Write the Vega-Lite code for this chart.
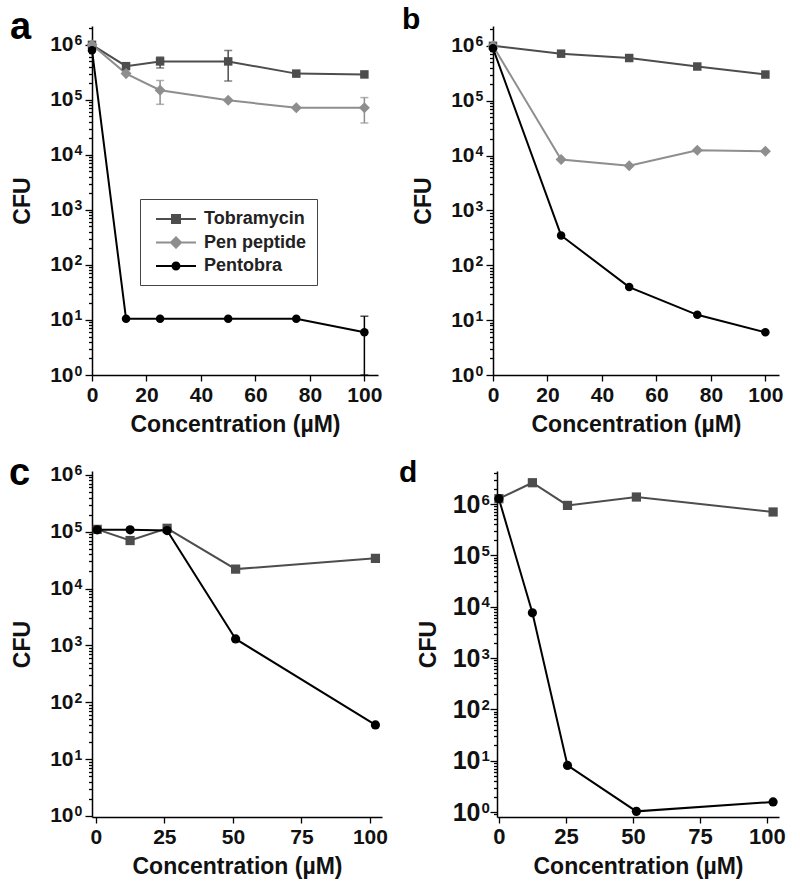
{
  "$schema": "https://vega.github.io/schema/vega-lite/v6.json",
  "padding": {"left": 8, "top": 4, "right": 5, "bottom": 5},
  "background": "white",
  "config": {
    "view": {"stroke": null},
    "axis": {"domainColor": "#000", "domainWidth": 1.5, "tickColor": "#000", "tickWidth": 1.3, "labelFont": "Liberation Sans", "labelFontWeight": "bold", "labelFontSize": 21, "labelColor": "#111", "titleFont": "Liberation Sans", "titleFontWeight": "bold", "titleFontSize": 23, "titleColor": "#111", "grid": false, "labelOverlap": false, "labelFlush": false},
    "text": {"font": "Liberation Sans", "fontWeight": "bold", "align": "left", "baseline": "alphabetic", "color": "#000"}
  },
  "datasets": {
    "labels": [
      {"panel": "a", "label": "a"},
      {"panel": "b", "label": "b"},
      {"panel": "c", "label": "c"},
      {"panel": "d", "label": "d"}
    ],
    "pts": [
      {"panel": "a", "series": "Tobramycin", "conc": 0, "cfu": 1000000},
      {"panel": "a", "series": "Tobramycin", "conc": 12.5, "cfu": 410000},
      {"panel": "a", "series": "Tobramycin", "conc": 25, "cfu": 500000},
      {"panel": "a", "series": "Tobramycin", "conc": 50, "cfu": 500000},
      {"panel": "a", "series": "Tobramycin", "conc": 75, "cfu": 300000},
      {"panel": "a", "series": "Tobramycin", "conc": 100, "cfu": 290000},
      {"panel": "a", "series": "Pen peptide", "conc": 0, "cfu": 1000000},
      {"panel": "a", "series": "Pen peptide", "conc": 12.5, "cfu": 300000},
      {"panel": "a", "series": "Pen peptide", "conc": 25, "cfu": 150000},
      {"panel": "a", "series": "Pen peptide", "conc": 50, "cfu": 98000},
      {"panel": "a", "series": "Pen peptide", "conc": 75, "cfu": 72000},
      {"panel": "a", "series": "Pen peptide", "conc": 100, "cfu": 72000},
      {"panel": "a", "series": "Pentobra", "conc": 0, "cfu": 800000},
      {"panel": "a", "series": "Pentobra", "conc": 12.5, "cfu": 10.5},
      {"panel": "a", "series": "Pentobra", "conc": 25, "cfu": 10.5},
      {"panel": "a", "series": "Pentobra", "conc": 50, "cfu": 10.5},
      {"panel": "a", "series": "Pentobra", "conc": 75, "cfu": 10.5},
      {"panel": "a", "series": "Pentobra", "conc": 100, "cfu": 6},
      {"panel": "b", "series": "Tobramycin", "conc": 0, "cfu": 1000000},
      {"panel": "b", "series": "Tobramycin", "conc": 25, "cfu": 720000},
      {"panel": "b", "series": "Tobramycin", "conc": 50, "cfu": 600000},
      {"panel": "b", "series": "Tobramycin", "conc": 75, "cfu": 420000},
      {"panel": "b", "series": "Tobramycin", "conc": 100, "cfu": 300000},
      {"panel": "b", "series": "Pen peptide", "conc": 0, "cfu": 1000000},
      {"panel": "b", "series": "Pen peptide", "conc": 25, "cfu": 8500},
      {"panel": "b", "series": "Pen peptide", "conc": 50, "cfu": 6500},
      {"panel": "b", "series": "Pen peptide", "conc": 75, "cfu": 12500},
      {"panel": "b", "series": "Pen peptide", "conc": 100, "cfu": 12000},
      {"panel": "b", "series": "Pentobra", "conc": 0, "cfu": 900000},
      {"panel": "b", "series": "Pentobra", "conc": 25, "cfu": 350},
      {"panel": "b", "series": "Pentobra", "conc": 50, "cfu": 40},
      {"panel": "b", "series": "Pentobra", "conc": 75, "cfu": 12.5},
      {"panel": "b", "series": "Pentobra", "conc": 100, "cfu": 6},
      {"panel": "c", "series": "Tobramycin", "conc": 0.5, "cfu": 110000},
      {"panel": "c", "series": "Tobramycin", "conc": 12.5, "cfu": 70000},
      {"panel": "c", "series": "Tobramycin", "conc": 26, "cfu": 115000},
      {"panel": "c", "series": "Tobramycin", "conc": 51, "cfu": 22000},
      {"panel": "c", "series": "Tobramycin", "conc": 102, "cfu": 34000},
      {"panel": "c", "series": "Pentobra", "conc": 0.5, "cfu": 108000},
      {"panel": "c", "series": "Pentobra", "conc": 12.5, "cfu": 108000},
      {"panel": "c", "series": "Pentobra", "conc": 26, "cfu": 105000},
      {"panel": "c", "series": "Pentobra", "conc": 51, "cfu": 1300},
      {"panel": "c", "series": "Pentobra", "conc": 102, "cfu": 40},
      {"panel": "d", "series": "Tobramycin", "conc": 0, "cfu": 1270000},
      {"panel": "d", "series": "Tobramycin", "conc": 12.5, "cfu": 2600000},
      {"panel": "d", "series": "Tobramycin", "conc": 25.6, "cfu": 940000},
      {"panel": "d", "series": "Tobramycin", "conc": 51.3, "cfu": 1370000},
      {"panel": "d", "series": "Tobramycin", "conc": 102.3, "cfu": 700000},
      {"panel": "d", "series": "Pentobra", "conc": 0, "cfu": 1270000},
      {"panel": "d", "series": "Pentobra", "conc": 12.5, "cfu": 7600},
      {"panel": "d", "series": "Pentobra", "conc": 25.6, "cfu": 8.1},
      {"panel": "d", "series": "Pentobra", "conc": 51.3, "cfu": 1.03},
      {"panel": "d", "series": "Pentobra", "conc": 102.3, "cfu": 1.57}
    ],
    "errs": [
      {"series": "Tobramycin", "conc": 25, "lo": 380000, "hi": 600000},
      {"series": "Tobramycin", "conc": 50, "lo": 220000, "hi": 790000},
      {"series": "Pen peptide", "conc": 25, "lo": 83000, "hi": 225000},
      {"series": "Pen peptide", "conc": 100, "lo": 38000, "hi": 110000},
      {"series": "Pentobra", "conc": 100, "lo": 1, "hi": 11.7}
    ]
  },
  "resolve": {"scale": {"x": "independent", "y": "independent", "color": "independent", "shape": "independent"}, "axis": {"x": "independent", "y": "independent"}, "legend": {"color": "independent", "shape": "independent"}},
  "spacing": 18,
  "vconcat": [
    {
      "spacing": 20,
      "resolve": {"scale": {"x": "independent", "y": "independent", "color": "independent", "shape": "independent"}, "axis": {"x": "independent", "y": "independent"}, "legend": {"color": "independent", "shape": "independent"}},
      "hconcat": [
        {
          "width": 286, "height": 349,
          "resolve": {"scale": {"shape": "independent", "color": "independent"}, "legend": {"shape": "independent", "color": "independent"}, "axis": {"y": "independent"}},
          "layer": [
            {
              "data": {"name": "pts"},
              "transform": [{"filter": "datum.panel === 'a'"}],
              "mark": {"type": "line", "strokeWidth": 2},
              "encoding": {
                "x": {"field": "conc", "type": "quantitative", "title": "Concentration (µM)", "scale": {"domain": [0, 105], "nice": false},
                  "axis": {"values": [0, 10, 20, 30, 40, 50, 60, 70, 80, 90, 100], "labelExpr": "datum.value % 20 === 0 ? datum.label : ''", "tickSize": {"condition": {"test": "datum.value % 20 === 0", "value": 6}, "value": 4}, "labelPadding": 3, "titlePadding": 8}},
                "y": {"field": "cfu", "type": "quantitative", "title": "CFU", "scale": {"type": "log", "domain": [1, 2200000], "nice": false},
                  "axis": {"values": [1,2,3,4,5,6,7,8,9,10,20,30,40,50,60,70,80,90,100,200,300,400,500,600,700,800,900,1000,2000,3000,4000,5000,6000,7000,8000,9000,10000,20000,30000,40000,50000,60000,70000,80000,90000,100000,200000,300000,400000,500000,600000,700000,800000,900000,1000000,2000000],
                    "labelExpr": "abs(log(datum.value)/LN10 - round(log(datum.value)/LN10)) < 0.01 ? '10' : ''",
                    "tickSize": {"condition": {"test": "abs(log(datum.value)/LN10 - round(log(datum.value)/LN10)) < 0.01", "value": 7}, "value": 3.5},
                    "labelPadding": 12, "titlePadding": 15}},
                "color": {"field": "series", "type": "nominal", "legend": null, "scale": {"domain": ["Tobramycin", "Pen peptide", "Pentobra"], "range": ["#4d4d4d", "#8e8e8e", "#000000"]}}
              }
            },
            {
              "data": {"name": "errs"},
              "mark": {"type": "rule", "strokeWidth": 1.5},
              "encoding": {
                "x": {"field": "conc", "type": "quantitative"},
                "y": {"field": "lo", "type": "quantitative", "axis": null},
                "y2": {"field": "hi"},
                "color": {"field": "series", "type": "nominal", "legend": null, "scale": {"domain": ["Tobramycin", "Pen peptide", "Pentobra"], "range": ["#4d4d4d", "#8e8e8e", "#000000"]}}
              }
            },
            {
              "data": {"name": "errs"},
              "mark": {"type": "tick", "orient": "horizontal", "size": 8, "thickness": 1.5},
              "encoding": {
                "x": {"field": "conc", "type": "quantitative"},
                "y": {"field": "hi", "type": "quantitative", "axis": null},
                "color": {"field": "series", "type": "nominal", "legend": null, "scale": {"domain": ["Tobramycin", "Pen peptide", "Pentobra"], "range": ["#4d4d4d", "#8e8e8e", "#000000"]}}
              }
            },
            {
              "data": {"name": "errs"},
              "mark": {"type": "tick", "orient": "horizontal", "size": 8, "thickness": 1.5},
              "encoding": {
                "x": {"field": "conc", "type": "quantitative"},
                "y": {"field": "lo", "type": "quantitative", "axis": null},
                "color": {"field": "series", "type": "nominal", "legend": null, "scale": {"domain": ["Tobramycin", "Pen peptide", "Pentobra"], "range": ["#4d4d4d", "#8e8e8e", "#000000"]}}
              }
            },
            {
              "data": {"name": "pts"},
              "transform": [{"filter": "datum.panel === 'a'"}],
              "mark": {"type": "point", "filled": true, "opacity": 1, "size": 72},
              "encoding": {
                "x": {"field": "conc", "type": "quantitative"},
                "y": {"field": "cfu", "type": "quantitative",
                  "axis": {"orient": "right", "offset": -305, "values": [1, 10, 100, 1000, 10000, 100000, 1000000], "labelExpr": "'' + round(log(datum.value)/LN10)", "domain": false, "ticks": false, "tickSize": 0, "labelPadding": 1, "labelAlign": "left", "labelBaseline": "alphabetic", "labelFontSize": 14, "title": null}},
                "color": {"field": "series", "type": "nominal", "legend": null, "scale": {"domain": ["Tobramycin", "Pen peptide", "Pentobra"], "range": ["#4d4d4d", "#8e8e8e", "#000000"]}},
                "shape": {"field": "series", "type": "nominal", "legend": null, "scale": {"domain": ["Tobramycin", "Pen peptide", "Pentobra"], "range": ["square", "M0,-1.3L1.3,0L0,1.3L-1.3,0Z", "circle"]}}
              }
            },
            {
              "data": {"name": "pts"},
              "transform": [{"filter": "datum.panel === 'none'"}],
              "mark": {"type": "point", "filled": true, "opacity": 1},
              "encoding": {
                "x": {"field": "conc", "type": "quantitative"},
                "y": {"field": "cfu", "type": "quantitative", "axis": null},
                "color": {"field": "series", "type": "nominal",
                  "scale": {"domain": ["Tobramycin", "Pen peptide", "Pentobra"], "range": ["#4d4d4d", "#8e8e8e", "#000000"]},
                  "legend": {"orient": "none", "legendX": 48, "legendY": 173, "title": null, "padding": 10, "strokeColor": "#444", "fillColor": "white", "rowPadding": 4.5, "symbolSize": 400, "symbolOffset": 16, "symbolStrokeWidth": 0, "symbolOpacity": 1, "labelFont": "Liberation Sans", "labelFontWeight": "bold", "labelFontSize": 18, "labelColor": "#222", "labelOffset": 18}},
                "shape": {"field": "series", "type": "nominal",
                  "scale": {"domain": ["Tobramycin", "Pen peptide", "Pentobra"], "range": ["M-2,-0.1L2,-0.1L2,0.1L-2,0.1Z M-0.5,-0.5L0.5,-0.5L0.5,0.5L-0.5,0.5Z", "M-2,-0.1L2,-0.1L2,0.1L-2,0.1Z M0,-0.65L0.65,0L0,0.65L-0.65,0Z", "M-2,-0.1L2,-0.1L2,0.1L-2,0.1Z M-0.45,0A0.45,0.45,0,1,1,0.45,0A0.45,0.45,0,1,1,-0.45,0Z"]}}
              }
            },
            {
              "data": {"name": "labels"},
              "transform": [{"filter": "datum.panel === 'a'"}],
              "mark": {"type": "text", "fontSize": 38},
              "encoding": {
                "x": {"datum": -30.1, "type": "quantitative"},
                "y": {"datum": 1277000, "type": "quantitative", "axis": null},
                "text": {"field": "label"}
              }
            }
          ]
        },
        {
          "width": 286, "height": 349,
          "resolve": {"axis": {"y": "independent"}},
          "layer": [
            {
              "data": {"name": "pts"},
              "transform": [{"filter": "datum.panel === 'b'"}],
              "mark": {"type": "line", "strokeWidth": 2},
              "encoding": {
                "x": {"field": "conc", "type": "quantitative", "title": "Concentration (µM)", "scale": {"domain": [0, 105], "nice": false},
                  "axis": {"values": [0, 10, 20, 30, 40, 50, 60, 70, 80, 90, 100], "labelExpr": "datum.value % 20 === 0 ? datum.label : ''", "tickSize": {"condition": {"test": "datum.value % 20 === 0", "value": 6}, "value": 4}, "labelPadding": 3, "titlePadding": 8}},
                "y": {"field": "cfu", "type": "quantitative", "title": "CFU", "scale": {"type": "log", "domain": [1, 2300000], "nice": false},
                  "axis": {"values": [1,2,3,4,5,6,7,8,9,10,20,30,40,50,60,70,80,90,100,200,300,400,500,600,700,800,900,1000,2000,3000,4000,5000,6000,7000,8000,9000,10000,20000,30000,40000,50000,60000,70000,80000,90000,100000,200000,300000,400000,500000,600000,700000,800000,900000,1000000,2000000],
                    "labelExpr": "abs(log(datum.value)/LN10 - round(log(datum.value)/LN10)) < 0.01 ? '10' : ''",
                    "tickSize": {"condition": {"test": "abs(log(datum.value)/LN10 - round(log(datum.value)/LN10)) < 0.01", "value": 7}, "value": 3.5},
                    "labelPadding": 12, "titlePadding": 15}},
                "color": {"field": "series", "type": "nominal", "legend": null, "scale": {"domain": ["Tobramycin", "Pen peptide", "Pentobra"], "range": ["#4d4d4d", "#8e8e8e", "#000000"]}}
              }
            },
            {
              "data": {"name": "pts"},
              "transform": [{"filter": "datum.panel === 'b'"}],
              "mark": {"type": "point", "filled": true, "opacity": 1, "size": 72},
              "encoding": {
                "x": {"field": "conc", "type": "quantitative"},
                "y": {"field": "cfu", "type": "quantitative",
                  "axis": {"orient": "right", "offset": -305, "values": [1, 10, 100, 1000, 10000, 100000, 1000000], "labelExpr": "'' + round(log(datum.value)/LN10)", "domain": false, "ticks": false, "tickSize": 0, "labelPadding": 1, "labelAlign": "left", "labelBaseline": "alphabetic", "labelFontSize": 14, "title": null}},
                "color": {"field": "series", "type": "nominal", "legend": null},
                "shape": {"field": "series", "type": "nominal", "legend": null, "scale": {"domain": ["Tobramycin", "Pen peptide", "Pentobra"], "range": ["square", "M0,-1.3L1.3,0L0,1.3L-1.3,0Z", "circle"]}}
              }
            },
            {
              "data": {"name": "labels"},
              "transform": [{"filter": "datum.panel === 'b'"}],
              "mark": {"type": "text", "fontSize": 30},
              "encoding": {
                "x": {"datum": -33.4, "type": "quantitative"},
                "y": {"datum": 2030000, "type": "quantitative", "axis": null},
                "text": {"field": "label"}
              }
            }
          ]
        }
      ]
    },
    {
      "spacing": 10,
      "resolve": {"scale": {"x": "independent", "y": "independent", "color": "independent", "shape": "independent"}, "axis": {"x": "independent", "y": "independent"}, "legend": {"color": "independent", "shape": "independent"}},
      "hconcat": [
        {
          "width": 290, "height": 346,
          "resolve": {"axis": {"y": "independent"}},
          "layer": [
            {
              "data": {"name": "pts"},
              "transform": [{"filter": "datum.panel === 'c'"}],
              "mark": {"type": "line", "strokeWidth": 2},
              "encoding": {
                "x": {"field": "conc", "type": "quantitative", "title": "Concentration (µM)", "scale": {"domain": [-1.4, 104.4], "nice": false, "zero": false},
                  "axis": {"values": [0, 12.5, 25, 37.5, 50, 62.5, 75, 87.5, 100], "labelExpr": "datum.value % 25 === 0 ? datum.label : ''", "tickSize": {"condition": {"test": "datum.value % 25 === 0", "value": 6}, "value": 4}, "labelPadding": 3, "titlePadding": 8}},
                "y": {"field": "cfu", "type": "quantitative", "title": "CFU", "scale": {"type": "log", "domain": [0.96, 1170000], "nice": false},
                  "axis": {"values": [1,2,3,4,5,6,7,8,9,10,20,30,40,50,60,70,80,90,100,200,300,400,500,600,700,800,900,1000,2000,3000,4000,5000,6000,7000,8000,9000,10000,20000,30000,40000,50000,60000,70000,80000,90000,100000,200000,300000,400000,500000,600000,700000,800000,900000,1000000],
                    "labelExpr": "abs(log(datum.value)/LN10 - round(log(datum.value)/LN10)) < 0.01 ? '10' : ''",
                    "tickSize": {"condition": {"test": "abs(log(datum.value)/LN10 - round(log(datum.value)/LN10)) < 0.01", "value": 7}, "value": 3.5},
                    "labelPadding": 12, "titlePadding": 15}},
                "color": {"field": "series", "type": "nominal", "legend": null, "scale": {"domain": ["Tobramycin", "Pen peptide", "Pentobra"], "range": ["#4d4d4d", "#8e8e8e", "#000000"]}}
              }
            },
            {
              "data": {"name": "pts"},
              "transform": [{"filter": "datum.panel === 'c'"}],
              "mark": {"type": "point", "filled": true, "opacity": 1, "size": 85},
              "encoding": {
                "x": {"field": "conc", "type": "quantitative"},
                "y": {"field": "cfu", "type": "quantitative",
                  "axis": {"orient": "right", "offset": -309, "values": [1, 10, 100, 1000, 10000, 100000, 1000000], "labelExpr": "'' + round(log(datum.value)/LN10)", "domain": false, "ticks": false, "tickSize": 0, "labelPadding": 1, "labelAlign": "left", "labelBaseline": "alphabetic", "labelFontSize": 14, "title": null}},
                "color": {"field": "series", "type": "nominal", "legend": null},
                "shape": {"field": "series", "type": "nominal", "legend": null, "scale": {"domain": ["Tobramycin", "Pen peptide", "Pentobra"], "range": ["square", "M0,-1.3L1.3,0L0,1.3L-1.3,0Z", "circle"]}}
              }
            },
            {
              "data": {"name": "labels"},
              "transform": [{"filter": "datum.panel === 'c'"}],
              "mark": {"type": "text", "fontSize": 38},
              "encoding": {
                "x": {"datum": -31.7, "type": "quantitative"},
                "y": {"datum": 664000, "type": "quantitative", "axis": null},
                "text": {"field": "label"}
              }
            }
          ]
        },
        {
          "width": 282, "height": 346,
          "resolve": {"axis": {"y": "independent"}},
          "layer": [
            {
              "data": {"name": "pts"},
              "transform": [{"filter": "datum.panel === 'd'"}],
              "mark": {"type": "line", "strokeWidth": 2},
              "encoding": {
                "x": {"field": "conc", "type": "quantitative", "title": "Concentration (µM)", "scale": {"domain": [-0.7, 104.5], "nice": false, "zero": false},
                  "axis": {"values": [0, 12.5, 25, 37.5, 50, 62.5, 75, 87.5, 100], "labelExpr": "datum.value % 25 === 0 ? datum.label : ''", "tickSize": {"condition": {"test": "datum.value % 25 === 0", "value": 6}, "value": 4}, "labelPadding": 3, "titlePadding": 8, "labelFontSize": 22}},
                "y": {"field": "cfu", "type": "quantitative", "title": "CFU", "scale": {"type": "log", "domain": [0.8, 4400000], "nice": false},
                  "axis": {"values": [0.9,1,2,3,4,5,6,7,8,9,10,20,30,40,50,60,70,80,90,100,200,300,400,500,600,700,800,900,1000,2000,3000,4000,5000,6000,7000,8000,9000,10000,20000,30000,40000,50000,60000,70000,80000,90000,100000,200000,300000,400000,500000,600000,700000,800000,900000,1000000,2000000,3000000,4000000],
                    "labelExpr": "abs(log(datum.value)/LN10 - round(log(datum.value)/LN10)) < 0.01 ? '10' : ''",
                    "tickSize": {"condition": {"test": "abs(log(datum.value)/LN10 - round(log(datum.value)/LN10)) < 0.01", "value": 7}, "value": 3.5},
                    "labelPadding": 10, "labelFontSize": 25, "titlePadding": 12}},
                "color": {"field": "series", "type": "nominal", "legend": null, "scale": {"domain": ["Tobramycin", "Pen peptide", "Pentobra"], "range": ["#4d4d4d", "#8e8e8e", "#000000"]}}
              }
            },
            {
              "data": {"name": "pts"},
              "transform": [{"filter": "datum.panel === 'd'"}],
              "mark": {"type": "point", "filled": true, "opacity": 1, "size": 85},
              "encoding": {
                "x": {"field": "conc", "type": "quantitative"},
                "y": {"field": "cfu", "type": "quantitative",
                  "axis": {"orient": "right", "offset": -299, "values": [1, 10, 100, 1000, 10000, 100000, 1000000], "labelExpr": "'' + round(log(datum.value)/LN10)", "domain": false, "ticks": false, "tickSize": 0, "labelPadding": 1, "labelAlign": "left", "labelBaseline": "alphabetic", "labelFontSize": 15, "title": null}},
                "color": {"field": "series", "type": "nominal", "legend": null},
                "shape": {"field": "series", "type": "nominal", "legend": null, "scale": {"domain": ["Tobramycin", "Pen peptide", "Pentobra"], "range": ["square", "M0,-1.3L1.3,0L0,1.3L-1.3,0Z", "circle"]}}
              }
            },
            {
              "data": {"name": "labels"},
              "transform": [{"filter": "datum.panel === 'd'"}],
              "mark": {"type": "text", "fontSize": 30},
              "encoding": {
                "x": {"datum": -37.3, "type": "quantitative"},
                "y": {"datum": 2690000, "type": "quantitative", "axis": null},
                "text": {"field": "label"}
              }
            }
          ]
        }
      ]
    }
  ]
}
